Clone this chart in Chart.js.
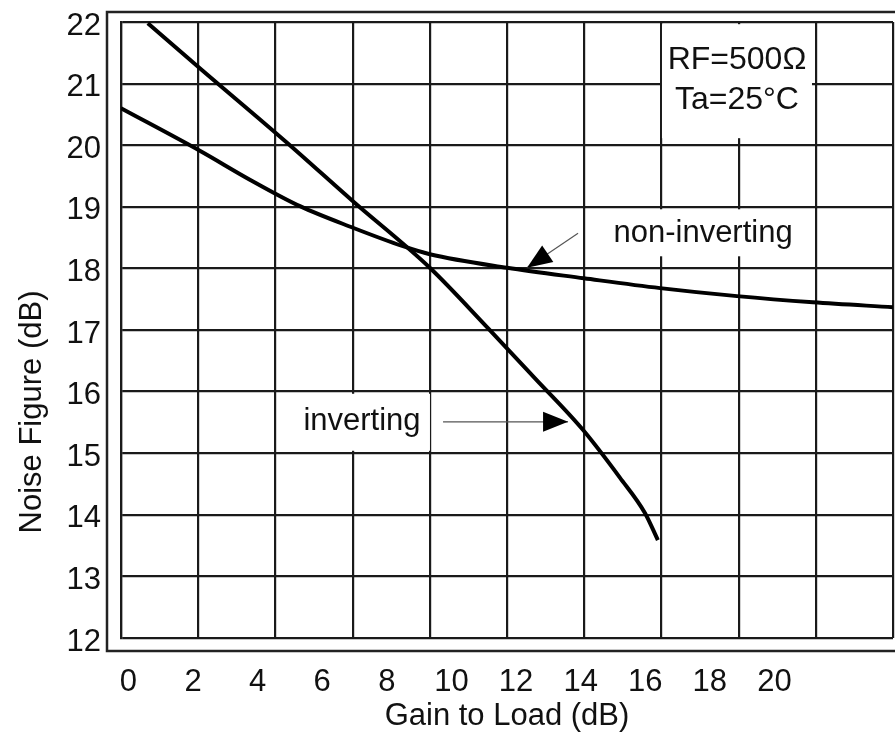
<!DOCTYPE html>
<html>
<head>
<meta charset="utf-8">
<title>Noise Figure vs Gain to Load</title>
<script src="https://cdn.jsdelivr.net/npm/chart.js@4.4.1/dist/chart.umd.min.js"></script>
<style>
    html, body { margin: 0; padding: 0; background: #fff; }
    #nfChart { display: block; }
</style>
</head>
<body>
<canvas id="nfChart" width="895" height="742"></canvas>
<script>
// values (gain in dB on the labelled axis)
var invertingGain = [0.60, 2.21, 4.91, 6.95, 9.33, 11.13, 12.58, 14.07, 15.22, 15.99, 16.39];
var invertingNF = [21.98, 21.25, 20.04, 19.09, 18.01, 17.03, 16.22, 15.38, 14.60, 14.03, 13.59];

var nonInvertingGain = [-0.23, 2.21, 3.76, 5.31, 6.95, 8.50, 9.33, 11.72, 14.10, 16.46, 18.84, 21.19, 23.67];
var nonInvertingNF = [20.60, 19.91, 19.44, 19.01, 18.66, 18.36, 18.23, 18.01, 17.84, 17.68, 17.55, 17.45, 17.37];

var xTickLabels = [0, 2, 4, 6, 8, 10, 12, 14, 16, 18, 20];
var yTickLabels = [12, 13, 14, 15, 16, 17, 18, 19, 20, 21, 22];

var FONT = "'Liberation Sans', Arial, Helvetica, sans-serif";
var INK = '#111';

function toPoints(xs, ys) {
    return xs.map(function (x, i) { return { x: x, y: ys[i] }; });
}

function arrowHead(ctx, tx, ty, angle, len, half) {
    ctx.save();
    ctx.translate(tx, ty);
    ctx.rotate(angle);
    ctx.beginPath();
    ctx.moveTo(0, 0);
    ctx.lineTo(-len, -half);
    ctx.lineTo(-len, half);
    ctx.closePath();
    ctx.fill();
    ctx.restore();
}

// no extra room for overhanging tick labels, the plot box is fixed
function noOverhang(scale) {
    scale.paddingTop = 0;
    scale.paddingBottom = 0;
    scale.paddingLeft = 0;
    scale.paddingRight = 0;
}

var notesPlugin = {
    id: 'notes',
    beforeDraw: function (chart) {
        var ctx = chart.ctx;
        ctx.save();
        ctx.strokeStyle = '#222';
        ctx.lineWidth = 2.5;
        ctx.strokeRect(107, 12, 820, 639);
        ctx.restore();
    },
    beforeDatasetsDraw: function (chart) {
        var ctx = chart.ctx;
        var xs = chart.scales.x;
        var ys = chart.scales.y;
        var px = function (v) { return xs.getPixelForValue(v); };
        var py = function (v) { return ys.getPixelForValue(v); };

        ctx.save();
        ctx.fillStyle = '#fff';
        // boxes behind the labels
        ctx.fillRect(px(18.84) - 75, py(21.38) - 36, 150, 114);
        ctx.fillRect(px(17.79) - 108, py(18.57) - 24, 205, 47);
        ctx.fillRect(px(7.23) - 66, py(15.51) - 28, 134, 57);

        ctx.fillStyle = INK;
        ctx.font = '32px ' + FONT;
        ctx.textAlign = 'center';
        ctx.textBaseline = 'middle';
        ctx.fillText('RF=500\u03A9', px(18.84), py(21.38));
        ctx.fillText('Ta=25\u00B0C', px(18.84), py(20.73));
        ctx.font = '31px ' + FONT;
        ctx.fillText('non-inverting', px(17.79), py(18.57));
        ctx.fillText('inverting', px(7.23), py(15.51));

        // arrow to non-inverting curve
        ctx.strokeStyle = '#555';
        ctx.lineWidth = 1.2;
        var ax0 = px(13.92), ay0 = py(18.57), ax1 = px(12.34), ay1 = py(18.01);
        ctx.beginPath();
        ctx.moveTo(ax0, ay0);
        ctx.lineTo(ax1, ay1);
        ctx.stroke();
        ctx.fillStyle = '#000';
        arrowHead(ctx, ax1, ay1, Math.atan2(ay1 - ay0, ax1 - ax0), 25, 10);

        // arrow to inverting curve
        var bx0 = px(9.74), by0 = py(15.51), bx1 = px(13.61), by1 = py(15.51);
        ctx.beginPath();
        ctx.moveTo(bx0, by0);
        ctx.lineTo(bx1, by1);
        ctx.stroke();
        arrowHead(ctx, bx1, by1, 0, 25, 10);

        // y axis title
        ctx.fillStyle = INK;
        ctx.font = '31px ' + FONT;
        ctx.translate(32, 412);
        ctx.rotate(-Math.PI / 2);
        ctx.fillText('Noise Figure (dB)', 0, 0);
        ctx.restore();
    }
};

var ctx = document.getElementById('nfChart');
new Chart(ctx, {
    type: 'line',
    data: {
        datasets: [{
            label: 'inverting',
            data: toPoints(invertingGain, invertingNF),
            borderColor: '#000',
            borderWidth: 4,
            pointRadius: 0,
            cubicInterpolationMode: 'monotone',
            xAxisID: 'x',
            yAxisID: 'y'
        }, {
            label: 'non-inverting',
            data: toPoints(nonInvertingGain, nonInvertingNF),
            borderColor: '#000',
            borderWidth: 4,
            pointRadius: 0,
            cubicInterpolationMode: 'monotone',
            xAxisID: 'x',
            yAxisID: 'y'
        }]
    },
    options: {
        responsive: false,
        animation: false,
        events: [],
        layout: { padding: { top: 22, right: 2, left: 0, bottom: 0 } },
        plugins: {
            legend: { display: false },
            tooltip: { enabled: false }
        },
        scales: {
            x: {
                type: 'linear',
                position: 'bottom',
                min: -0.23,
                max: 23.67,
                afterFit: function (scale) { scale.height = 104; noOverhang(scale); },
                afterBuildTicks: function (scale) {
                    scale.ticks = xTickLabels.map(function (v) { return { value: v }; });
                },
                grid: { display: false, drawTicks: false },
                border: { display: false },
                ticks: {
                    autoSkip: false,
                    maxRotation: 0,
                    padding: 26,
                    color: INK,
                    font: { size: 31, family: FONT }
                },
                title: {
                    display: true,
                    text: 'Gain to Load (dB)',
                    color: INK,
                    font: { size: 31, family: FONT },
                    padding: { top: 0, bottom: 7 }
                }
            },
            xg: {
                type: 'linear',
                position: 'bottom',
                min: 0,
                max: 10,
                afterFit: function (scale) { scale.height = 0; noOverhang(scale); },
                ticks: { display: false, stepSize: 1 },
                grid: { color: '#1a1a1a', lineWidth: 2.2, drawTicks: false },
                border: { display: false }
            },
            y: {
                type: 'linear',
                min: 12,
                max: 22,
                afterFit: function (scale) { scale.width = 121; noOverhang(scale); },
                afterBuildTicks: function (scale) {
                    scale.ticks = yTickLabels.map(function (v) { return { value: v }; });
                },
                grid: { color: '#1a1a1a', lineWidth: 2.2, drawTicks: false },
                border: { display: true, color: '#1a1a1a', width: 2.2 },
                ticks: {
                    padding: 20,
                    labelOffset: 4,
                    color: INK,
                    font: { size: 31, family: FONT }
                }
            }
        }
    },
    plugins: [notesPlugin]
});
</script>
</body>
</html>
